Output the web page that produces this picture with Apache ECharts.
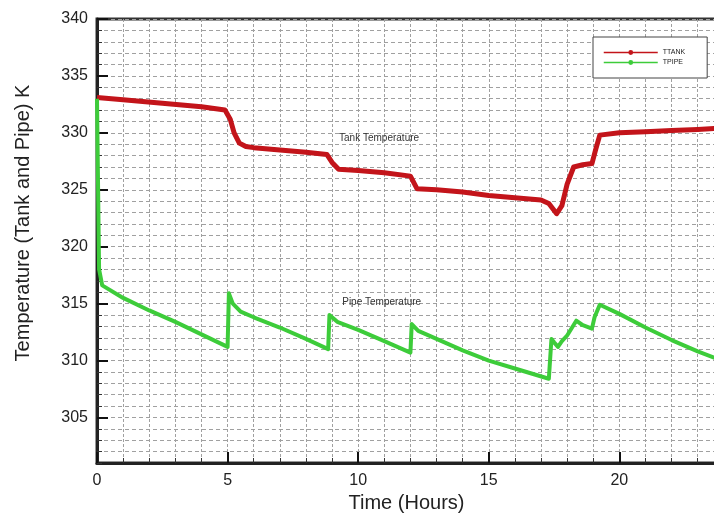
<!DOCTYPE html>
<html>
<head>
<meta charset="utf-8">
<script src="https://cdn.jsdelivr.net/npm/echarts@6/dist/echarts.min.js"></script>
<style>html,body{margin:0;padding:0;background:#fff}#c{width:714px;height:520px}</style>
</head>
<body>
<div id="c"></div>
<script>
// Tank temperature (TTANK)
var tankTime = [0, 1, 2.5, 4, 4.9, 5.1, 5.25, 5.45, 5.7, 6, 7, 8, 8.8, 9.0, 9.25, 10, 11, 12.0, 12.25, 13, 14, 15, 16, 17.0, 17.3, 17.6, 17.8, 18.0, 18.25, 18.6, 18.95, 19.1, 19.25, 20, 21, 22, 23, 23.7];
var tankTemp = [333.1, 332.9, 332.6, 332.3, 332.0, 331.2, 330.0, 329.1, 328.8, 328.7, 328.5, 328.3, 328.1, 327.4, 326.8, 326.7, 326.5, 326.2, 325.1, 325.0, 324.8, 324.5, 324.3, 324.1, 323.8, 322.9, 323.6, 325.5, 327.0, 327.2, 327.3, 328.6, 329.8, 330.0, 330.1, 330.2, 330.3, 330.4];
// Pipe temperature (TPIPE)
var pipeTime = [0, 0.08, 0.2, 1, 2, 3, 4, 5.0, 5.05, 5.2, 5.5, 6, 7, 8, 8.85, 8.9, 9.2, 10, 11, 12.0, 12.05, 12.3, 13, 14, 15, 16, 17.3, 17.4, 17.5, 17.65, 17.8, 18.0, 18.35, 18.6, 18.95, 19.05, 19.25, 20, 21, 22, 23, 23.7];
var pipeTemp = [333.0, 318.0, 316.6, 315.5, 314.4, 313.4, 312.3, 311.2, 315.9, 315.0, 314.3, 313.8, 312.9, 311.9, 311.0, 314.0, 313.4, 312.7, 311.7, 310.7, 313.2, 312.6, 311.9, 310.9, 310.0, 309.3, 308.4, 311.9, 311.6, 311.2, 311.7, 312.2, 313.5, 313.1, 312.8, 313.8, 314.9, 314.1, 312.9, 311.8, 310.8, 310.2];
var xMajorTicks = [0, 5, 10, 15, 20];
var yMajorTicks = [305, 310, 315, 320, 325, 330, 335, 340];
var seriesNames = ['TTANK', 'TPIPE'];
var annoText = ['Tank Temperature', 'Pipe Temperature'];
var annoCoord = [[10.8, 329.5], [10.9, 315.1]];

function pairs(t, v) { return t.map(function (x, i) { return [x, v[i]]; }); }

var chart = echarts.init(document.getElementById('c'));
var XMIN = 0, XMAX = 23.7, YMIN = 301, YMAX = 340;
var FONT = 'Liberation Sans, Arial, sans-serif';
var lab = { fontFamily: FONT, fontSize: 16, color: '#222' };

chart.setOption({
  animation: false,
  backgroundColor: '#fff',
  grid: { left: 97, top: 19, right: -2, bottom: 57, outerBoundsMode: 'none', containLabel: false, show: true, borderColor: '#333', borderWidth: 3, backgroundColor: 'transparent' },
  legend: {
    data: seriesNames, orient: 'vertical', left: 593, top: 37,
    padding: [12, 22, 12, 10], itemGap: 3, itemWidth: 54, itemHeight: 6,
    borderColor: '#444', borderWidth: 1, backgroundColor: '#fff',
    textStyle: { fontSize: 7, color: '#222', fontFamily: FONT },
    lineStyle: { width: 1.5 }
  },
  xAxis: [{
    type: 'value', min: XMIN, max: XMAX, interval: 1,
    name: 'Time (Hours)', nameLocation: 'middle', nameGap: 26,
    nameTextStyle: { fontFamily: FONT, fontSize: 20, color: '#222' },
    axisLine: { show: true, onZero: false, lineStyle: { color: '#222', width: 3 } },
    axisTick: { show: true, inside: true, length: 5, lineStyle: { color: '#333', width: 1 } },
    axisLabel: Object.assign({ margin: 10, interval: 0, showMaxLabel: false, formatter: function (v) { return xMajorTicks.indexOf(v) >= 0 ? String(v) : ''; } }, lab),
    splitLine: { show: true, lineStyle: { color: '#a0a0a0', width: 1, type: [3, 2] } }
  }, {
    type: 'value', min: XMIN, max: XMAX, position: 'bottom',
    axisLine: { show: false }, axisLabel: { show: false }, splitLine: { show: false },
    axisTick: { show: true, inside: true, length: 11, customValues: xMajorTicks, lineStyle: { color: '#111', width: 2 } }
  }],
  yAxis: [{
    type: 'value', min: YMIN, max: YMAX, interval: 1,
    name: 'Temperature (Tank and Pipe) K', nameLocation: 'middle', nameGap: 64,
    nameTextStyle: { fontFamily: FONT, fontSize: 20, color: '#222', padding: [0, 0, 0, 36] },
    axisLine: { show: true, onZero: false, lineStyle: { color: '#222', width: 3 } },
    axisTick: { show: true, inside: true, length: 5, lineStyle: { color: '#333', width: 1 } },
    axisLabel: Object.assign({ margin: 9, interval: 0, formatter: function (v) { return yMajorTicks.indexOf(v) >= 0 ? String(v) : ''; } }, lab),
    splitLine: { show: true, lineStyle: { color: '#a0a0a0', width: 1, type: [4, 3] } }
  }, {
    type: 'value', min: YMIN, max: YMAX, position: 'left',
    axisLine: { show: false }, axisLabel: { show: false }, splitLine: { show: false },
    axisTick: { show: true, inside: true, length: 11, customValues: yMajorTicks, lineStyle: { color: '#111', width: 2 } }
  }],
  series: [{
    name: seriesNames[0], type: 'line', xAxisIndex: 0, yAxisIndex: 0,
    data: pairs(tankTime, tankTemp), showSymbol: false, symbol: 'circle', symbolSize: 4,
    itemStyle: { color: '#c3141a' },
    lineStyle: { color: '#c3141a', width: 5, join: 'round' },
    markPoint: {
      symbol: 'circle', symbolSize: 0, silent: true,
      label: { show: true, position: 'inside', formatter: '{b}', fontSize: 10, color: '#333', fontFamily: FONT },
      data: [{ name: annoText[0], coord: annoCoord[0] }]
    }
  }, {
    name: seriesNames[1], type: 'line', xAxisIndex: 0, yAxisIndex: 0,
    data: pairs(pipeTime, pipeTemp), showSymbol: false, symbol: 'circle', symbolSize: 4,
    itemStyle: { color: '#3dcc3a' },
    lineStyle: { color: '#3dcc3a', width: 4, join: 'round' },
    markPoint: {
      symbol: 'circle', symbolSize: 0, silent: true,
      label: { show: true, position: 'inside', formatter: '{b}', fontSize: 10, color: '#333', fontFamily: FONT },
      data: [{ name: annoText[1], coord: annoCoord[1] }]
    }
  }]
});
</script>
</body>
</html>
